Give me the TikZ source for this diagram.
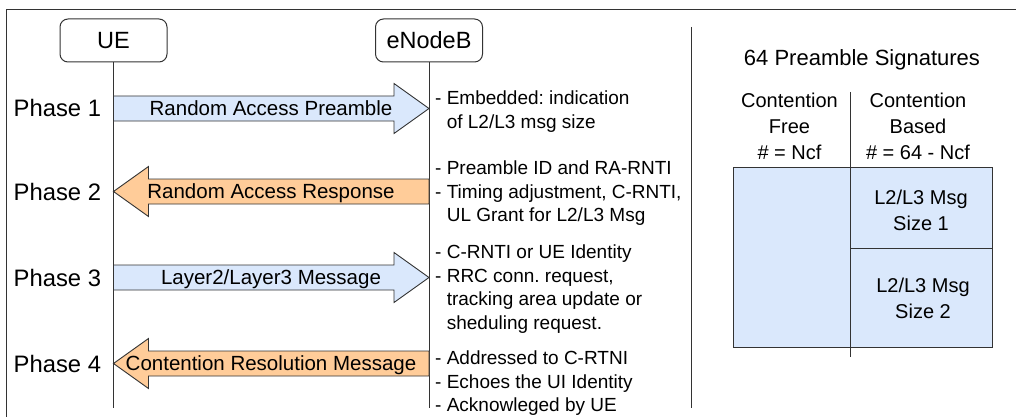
\documentclass[tikz,border=0pt]{standalone}
\usepackage{fontspec}
\setmainfont{Liberation Sans}
\usetikzlibrary{calc}
\frenchspacing
\definecolor{reqblue}{HTML}{DAE8FC}
\definecolor{respor}{HTML}{FFCC99}
\definecolor{ink}{HTML}{333333}

% Uplink message: wide arrow from the UE lifeline to the eNodeB lifeline
\newcommand{\MsgToEnb}[4]{%
  \filldraw[msgarrow, fill=#2]
    ($(ue.south |- 0,#1)+(0,-12.5)$) -- ($(enb.south |- 0,#1)+(-35,-12.5)$)
    -- ($(enb.south |- 0,#1)+(-35,-25)$) -- (enb.south |- 0,#1)
    -- ($(enb.south |- 0,#1)+(-35,25)$) -- ($(enb.south |- 0,#1)+(-35,12.5)$)
    -- ($(ue.south |- 0,#1)+(0,12.5)$) -- cycle;
  \node[msg] (#3) at (271,#1) {#4};}
% Downlink message: wide arrow from the eNodeB lifeline to the UE lifeline
\newcommand{\MsgToUe}[4]{%
  \filldraw[msgarrow, fill=#2]
    ($(enb.south |- 0,#1)+(0,-12.5)$) -- ($(ue.south |- 0,#1)+(35,-12.5)$)
    -- ($(ue.south |- 0,#1)+(35,-25)$) -- (ue.south |- 0,#1)
    -- ($(ue.south |- 0,#1)+(35,25)$) -- ($(ue.south |- 0,#1)+(35,12.5)$)
    -- ($(enb.south |- 0,#1)+(0,12.5)$) -- cycle;
  \node[msg] (#3) at (271,#1) {#4};}

\begin{document}
\begin{tikzpicture}[x=1pt,y=-1pt,
  line/.style={draw=ink, line width=1pt},
  msgarrow/.style={draw=ink, line width=0.9pt, line join=miter},
  actor/.style={draw=ink, line width=1pt, rounded corners=8pt,
    minimum width=107pt, minimum height=43pt, inner sep=0pt,
    font=\fontsize{23.5}{28}\selectfont},
  phase/.style={anchor=west, inner sep=0pt, text height=17pt, text depth=0pt,
    font=\fontsize{23.8}{28}\selectfont},
  msg/.style={inner sep=0pt, text height=14.7pt, text depth=0pt,
    font=\fontsize{20.5}{24}\selectfont},
  note/.style={anchor=base west, inner sep=0pt, align=left,
    font=\fontsize{19}{23.5}\selectfont},
  title/.style={anchor=base, inner sep=0pt, font=\fontsize{22}{26}\selectfont},
  cell/.style={inner sep=0pt, align=center, font=\fontsize{20}{26}\selectfont},
]
\useasboundingbox (0,0) rectangle (1016,417);

% frame
\coordinate (frameTR) at (1016,9.5);
\coordinate (frameTL) at (6.5,9.5);
\coordinate (frameBL) at (6.5,417);
\draw[line] (frameTR) -- (frameTL) -- (frameBL);

% participants and lifelines
\node[actor] (ue)  at (113.5,40.5) {UE};
\node[actor] (enb) at (429,40.5) {eNodeB};
\coordinate (ueEnd)  at (113.5,408);
\coordinate (enbEnd) at (429,408);
\draw[line] (ue.south) -- (ueEnd);
\draw[line] (enb.south) -- (enbEnd);

% phase labels
\node[phase] (ph1) at (13.5,108.5) {Phase 1};
\node[phase] (ph2) at (13.5,191.5) {Phase 2};
\node[phase] (ph3) at (13.5,277.5) {Phase 3};
\node[phase] (ph4) at (13.5,363.5) {Phase 4};

% messages
\MsgToEnb{108.5}{reqblue}{m1}{Random Access Preamble}
\MsgToUe{191.5}{respor}{m2}{Random Access Response}
\MsgToEnb{277.5}{reqblue}{m3}{Layer2/Layer3 Message}
\MsgToUe{363.5}{respor}{m4}{Contention Resolution Message}

% notes beside the eNodeB lifeline (placed by the baseline of their last line)
\node[note] (n1) at (435,128.1) {- Embedded: indication\\\phantom{- }of L2/L3 msg size};
\node[note] (n2) at (435,221.6) {- Preamble ID and RA-RNTI\\- Timing adjustment, C-RNTI,\\\phantom{- }UL Grant for L2/L3 Msg};
\node[note] (n3) at (435,329.1) {- C-RNTI or UE Identity\\- RRC conn. request,\\\phantom{- }tracking area update or\\\phantom{- }sheduling request.};
\node[note] (n4) at (435,411.6) {- Addressed to C-RTNI\\- Echoes the UI Identity\\- Acknowleged by UE};

% separator
\coordinate (sepTop) at (691,27);
\coordinate (sepBot) at (691,408);
\draw[line] (sepTop) -- (sepBot);

% preamble signature partition
\node[title] (sig) at (862,66) {64 Preamble Signatures};
\node[draw=ink, line width=1pt, fill=reqblue, minimum width=259pt,
  minimum height=180pt, inner sep=0pt] (pool) at (862.5,257) {};
\coordinate (colTop) at (850,92);
\coordinate (colBot) at (850,357);
\draw[line] (colTop) -- (colBot);
\draw[line] (colTop |- 0,248) -- (pool.east |- 0,248);
\node[cell] (cf) at (789.5,126) {Contention\\Free\\\# = Ncf};
\node[cell] (cb) at (918,126) {Contention\\Based\\\# = 64 - Ncf};
\node[cell] (sz1) at (921,210) {L2/L3 Msg\\Size 1};
\node[cell] (sz2) at (923,298) {L2/L3 Msg\\Size 2};
\end{tikzpicture}
\end{document}
